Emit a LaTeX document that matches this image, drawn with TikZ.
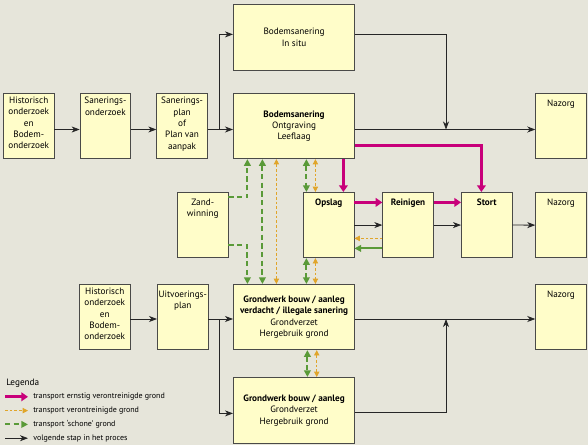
\documentclass[tikz,border=0pt]{standalone}
\usepackage{fontspec}
\setmainfont{PT Sans}
\usetikzlibrary{
  arrows.meta,
  calc,
  positioning,
}
\definecolor{paper}{HTML}{E6E5DA}
\definecolor{boxfill}{HTML}{FFFDC9}
\definecolor{boxline}{HTML}{4A4A48}
\definecolor{heavyred}{HTML}{C8007A}
\definecolor{dirtyorange}{HTML}{E0A52A}
\definecolor{cleangreen}{HTML}{5A9A38}
\tikzset{
  >={Stealth[length=6pt,width=4.5pt,inset=1.8pt]},
  boxfont/.style={font=\fontsize{6.9}{8.5}\selectfont},
  lbl/.style={anchor=north, align=center, boxfont, inner sep=0pt, yshift=-4.8pt},
  lbltop/.style={lbl, yshift=1.9pt},
  sbox/.style={draw=boxline, line width=0.6pt, fill=boxfill, anchor=north west,
    minimum width=38pt, minimum height=49pt, inner sep=0pt, label={[lbl]north:#1}},
  sboxtop/.style={sbox={}, label={[lbltop]north:#1}},
  wbox/.style={draw=boxline, line width=0.6pt, fill=boxfill, anchor=north west,
    minimum width=91pt, minimum height=49pt, inner sep=0pt, align=center, boxfont},
  flow/.style={->, line width=0.6pt, black!85},
  heavy/.style={-{Triangle[length=5pt,width=6.5pt]}, line width=2.2pt, heavyred},
  dirty/.style={->, >={Triangle[length=4pt,width=4pt]}, line width=0.7pt,
    dash pattern=on 2pt off 1.5pt, dirtyorange},
  clean/.style={->, >={Triangle[length=5pt,width=5pt]}, line width=1.6pt,
    dash pattern=on 4pt off 2.5pt, cleangreen},
  legtxt/.style={anchor=west, inner sep=0pt, font=\fontsize{6}{7}\selectfont},
}
\begin{document}
\begin{tikzpicture}[x=0.75pt, y=-0.75pt]
  \useasboundingbox (0,0) rectangle (588,445);
  \fill[paper] (0,0) rectangle (588,445);

  % saneren
  \node [sboxtop={Historisch\\onderzoek\\en\\Bodem-\\onderzoek}] (hist1) at (3,93) {};
  \node [sboxtop={Sanerings-\\onderzoek}, right=18.9pt of hist1] (sanond) {};
  \node [sboxtop={Sanerings-\\plan\\of\\Plan van\\aanpak}, right=18.9pt of sanond] (sanplan) {};
  \node [wbox, right=18.9pt of sanplan] (ontgr) {\textbf{Bodemsanering}\\Ontgraving\\Leeflaag};
  \node [wbox, minimum height=49.5pt, above=16.65pt of ontgr] (insitu) {Bodemsanering\\In situ};
  \node [sbox={Nazorg}, right=135.1pt of ontgr] (naz1) {};

  % verwerken
  \node [sbox={Zand-\\winning}] (zand) at (177,192) {};
  \node [sbox={\textbf{Opslag}}] (opslag) at (303,192) {};
  \node [sbox={\textbf{Reinigen}}, right=20.9pt of opslag] (rein) {};
  \node [sbox={\textbf{Stort}}, right=20.4pt of rein] (stort) {};
  \node [sbox={Nazorg}, below=24.7pt of naz1] (naz2) {};

  % grondwerk
  \node [sboxtop={Historisch\\onderzoek\\en\\Bodem-\\onderzoek}] (hist2) at (79,284) {};
  \node [sbox={Uitvoerings-\\plan}, right=19.9pt of hist2] (uitv) {};
  \node [wbox] (grond1) at (233,284)
    {\textbf{Grondwerk bouw / aanleg}\\\textbf{verdacht / illegale sanering}\\Grondverzet\\Hergebruik grond};
  \node [sbox={Nazorg}, below=19.4pt of naz2] (naz3) {};
  \node [wbox, minimum height=49.5pt, below=20.15pt of grond1] (grond2)
    {\textbf{Grondwerk bouw / aanleg}\\Grondverzet\\Hergebruik grond};

  % volgende stap
  \coordinate (row1) at (0,129.5);
  \coordinate (split1) at (219,129.5);
  \coordinate (join1) at (446,129.5);
  \draw [flow] (hist1.east |- row1) -- (sanond.west |- row1);
  \draw [flow] (sanond.east |- row1) -- (sanplan.west |- row1);
  \draw [flow] (sanplan.east |- row1) -- (ontgr.west |- row1);
  \draw [flow] (split1) |- ([yshift=2.25pt]insitu.west);
  \draw [flow] ([yshift=2.25pt]insitu.east) -| (join1);
  \draw [flow] (ontgr.east |- row1) -- (naz1.west |- row1);
  \draw [flow] (opslag) -- (rein);
  \draw [flow] (rein) -- (stort);
  \draw [flow] (stort) -- (naz2);
  \coordinate (row3) at (0,319);
  \coordinate (split2) at (219,319);
  \coordinate (join2) at (446,319);
  \draw [flow] (hist2.east |- row3) -- (uitv.west |- row3);
  \draw [flow] (uitv.east |- row3) -- (grond1.west |- row3);
  \draw [flow] (split2) |- ([yshift=-2.25pt]grond2.west);
  \draw [flow] (grond1.east |- row3) -- (naz3.west |- row3);
  \draw [flow] ([yshift=-1.5pt]grond2.east) -| (join2);

  % ernstig verontreinigd
  \draw [heavy] ([xshift=11pt]opslag.north |- ontgr.south) -- ([xshift=11pt]opslag.north);
  \draw [heavy] ([yshift=-14.6pt]ontgr.east) -| ([xshift=-4pt]stort.north);
  \draw [heavy] ([yshift=17pt]opslag.east) -- ([yshift=17pt]rein.west);
  \draw [heavy] ([yshift=17pt]rein.east) -- ([yshift=17pt]stort.west);

  % verontreinigd
  \draw [dirty] ([yshift=-10pt]rein.west) -- ([yshift=-10pt]opslag.east);
  \draw [dirty, <->] ([xshift=-10pt]opslag.north |- ontgr.south) -- ([xshift=-10pt]opslag.north);
  \draw [dirty, <->] ([xshift=-10pt]opslag.south) -- ([xshift=-10pt]opslag.south |- grond1.north);
  \draw [dirty, <->] ([xshift=-13.25pt]ontgr.south) -- ([xshift=-13.25pt]grond1.north);
  \draw [dirty, <->] ([xshift=17pt]grond1.south) -- ([xshift=17pt]grond2.north);

  % schoon
  \draw [clean, solid] ([yshift=-17.5pt]rein.west) -- ([yshift=-17.5pt]opslag.east);
  \draw [clean, <->] ([xshift=-16.75pt]opslag.north |- ontgr.south) -- ([xshift=-16.75pt]opslag.north);
  \draw [clean, <->] ([xshift=-16.75pt]opslag.south) -- ([xshift=-16.75pt]opslag.south |- grond1.north);
  \draw [clean, <->] ([xshift=-23.75pt]ontgr.south) -- ([xshift=-23.75pt]grond1.north);
  \draw [clean, <->] ([xshift=10pt]grond1.south) -- ([xshift=10pt]grond2.north);
  \draw [clean] ([yshift=20.75pt]zand.east) -| ([xshift=-35pt]ontgr.south);
  \draw [clean] ([yshift=-15.25pt]zand.east) -| ([xshift=-35pt]grond1.north);

  % legenda
  \node [anchor=west, inner sep=0pt, boxfont] (legenda) at (6,383) {Legenda};
  \foreach \sty/\txt [count=\i] in {heavy/transport ernstig verontreinigde grond,
      dirty/transport verontreinigde grond,
      clean/transport ‘schone’ grond,
      flow/volgende stap in het proces} {
    \coordinate (ka\i) at (5,{383+\i*13.8});
    \coordinate (kb\i) at (28,{383+\i*13.8});
    \draw [\sty] (ka\i) -- (kb\i);
    \node [legtxt] (key\i) at (33,{383+\i*13.8}) {\txt};
  }
\end{tikzpicture}
\end{document}
